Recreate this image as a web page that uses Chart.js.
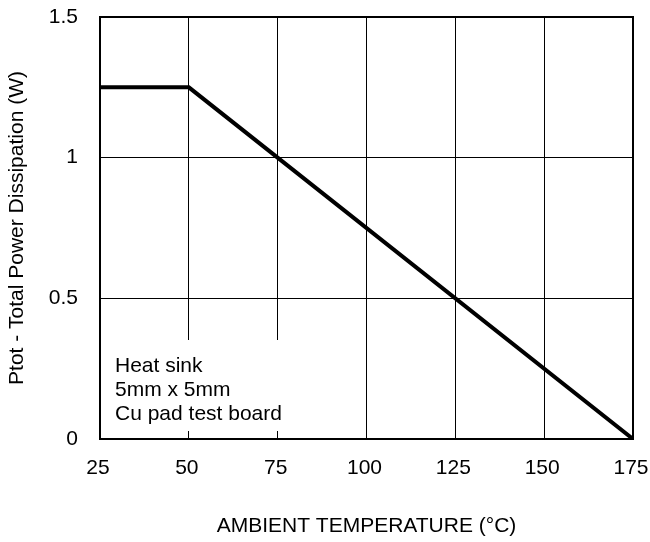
<!DOCTYPE html>
<html>
<head>
<meta charset="utf-8">
<script src="https://cdn.jsdelivr.net/npm/chart.js@4"></script>
<style>
  html, body { margin: 0; padding: 0; background: #fff; }
</style>
</head>
<body>
<canvas id="myChart" width="650" height="542"></canvas>
<script>
// derating curve: ambient temperature vs total power dissipation
const temps = [25, 50, 175];
const power = [1.25, 1.25, 0];
const xTickValues = [25, 50, 75, 100, 125, 150, 175];
const yTickValues = [0, 0.5, 1, 1.5];
const yTickLabels = ['0', '0.5', '1', '1.5'];
const noteLines = ['Heat sink', '5mm x 5mm', 'Cu pad test board'];

const FONT = "'Liberation Sans', Arial, sans-serif";

Chart.defaults.font.family = FONT;
Chart.defaults.font.size = 21;
Chart.defaults.color = '#000';

// white note box in the lower left, drawn over the grid
const notePlugin = {
  id: 'note',
  beforeDatasetsDraw(chart) {
    const ctx = chart.ctx;
    const area = chart.chartArea;
    ctx.save();
    ctx.fillStyle = '#fff';
    ctx.fillRect(area.left + 1, 340, 200, 91);
    ctx.fillStyle = '#000';
    ctx.font = '21px ' + FONT;
    ctx.textBaseline = 'alphabetic';
    noteLines.forEach((t, i) => ctx.fillText(t, 115, 372 + i * 24));
    ctx.restore();
  }
};

// frame around the plot
const framePlugin = {
  id: 'frame',
  afterDraw(chart) {
    const a = chart.chartArea;
    const ctx = chart.ctx;
    ctx.save();
    ctx.strokeStyle = '#000';
    ctx.lineWidth = 2;
    ctx.strokeRect(a.left, a.top, a.right - a.left, a.bottom - a.top);
    ctx.restore();
  }
};

const ctx = document.getElementById('myChart').getContext('2d');
new Chart(ctx, {
  type: 'line',
  data: {
    datasets: [{
      data: temps.map((t, i) => ({ x: t, y: power[i] })),
      borderColor: '#000',
      borderWidth: 4,
      pointRadius: 0,
      fill: false,
      tension: 0
    }]
  },
  options: {
    responsive: false,
    animation: false,
    layout: { padding: { top: 17, right: 17, left: 0, bottom: 0 } },
    plugins: { legend: { display: false }, tooltip: { enabled: false } },
    scales: {
      x: {
        type: 'linear',
        min: 25,
        max: 175,
        afterBuildTicks: s => { s.ticks = xTickValues.map(v => ({ value: v })); },
        afterFit: s => { s.height = 103; s.paddingLeft = 0; s.paddingRight = 0; },
        grid: { color: '#000', lineWidth: 1, drawTicks: false },
        border: { display: false },
        ticks: { padding: 17, labelOffset: -2, maxRotation: 0, autoSkip: false },
        title: {
          display: true,
          text: 'AMBIENT TEMPERATURE (°C)',
          padding: { top: 0, bottom: 3 }
        }
      },
      y: {
        type: 'linear',
        min: 0,
        max: 1.5,
        afterBuildTicks: s => { s.ticks = yTickValues.map(v => ({ value: v })); },
        afterFit: s => { s.width = 100; s.paddingTop = 0; s.paddingBottom = 0; },
        grid: { color: '#000', lineWidth: 1, drawTicks: false },
        border: { display: false },
        ticks: {
          padding: 22,
          callback: (v) => yTickLabels[yTickValues.indexOf(v)]
        },
        title: {
          display: true,
          text: 'Ptot - Total Power Dissipation (W)',
          padding: { top: 5, bottom: 0 }
        }
      }
    }
  },
  plugins: [notePlugin, framePlugin]
});
</script>
</body>
</html>
